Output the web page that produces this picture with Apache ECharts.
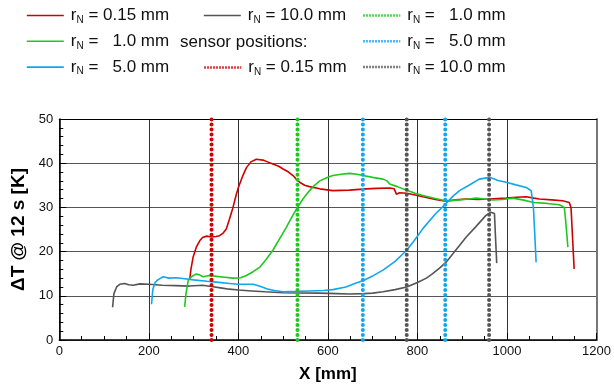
<!DOCTYPE html>
<html>
<head>
<meta charset="utf-8">
<script src="https://cdn.jsdelivr.net/npm/echarts@6/dist/echarts.min.js"></script>
<style>html,body{margin:0;padding:0;background:#fff}#c{width:614px;height:389px}</style>
</head>
<body>
<div id="c"></div>
<script>
// ---- data ----
var gray10 = [[119,7.4],[122,10.5],[128,12.0],[135,12.6],[146,12.8],[155,12.5],[165,12.4],[180,12.7],[200,12.6],[230,12.4],[260,12.3],[290,12.2],[320,12.4],[340,12.1],[360,11.8],[380,11.5],[400,11.3],[430,11.1],[460,10.9],[500,10.7],[537,10.65],[580,10.6],[620,10.5],[648,10.4],[680,10.5],[700,10.6],[723,10.9],[750,11.4],[776,12.0],[800,13.0],[820,14.0],[834,15.0],[850,16.3],[864,17.6],[880,19.6],[909,23.3],[930,25.6],[953,28.2],[964,28.9],[972,28.6],[974,24],[977,17.4]];
var blue5 = [[206,8.1],[209,11.5],[214,13.0],[220,13.6],[232,14.3],[245,14.0],[260,14.1],[276,13.9],[300,13.6],[330,13.3],[351,13.1],[380,12.8],[400,12.6],[433,12.6],[450,12.1],[463,11.6],[480,11.2],[500,10.9],[530,11.0],[559,11.1],[590,11.2],[611,11.4],[640,12.0],[663,12.9],[666,12.5],[678,13.4],[700,14.5],[723,15.8],[750,17.8],[776,20.3],[795,22.8],[812,25.2],[840,28.5],[863,30.8],[880,32.6],[894,33.8],[915,35.0],[938,36.4],[961,36.8],[980,36.1],[998,35.7],[1020,35.1],[1043,34.5],[1054,33.8],[1059,30.0],[1062,24],[1065,17.6]];
var green1 = [[280,7.5],[283,10.5],[288,13.5],[295,14.3],[305,14.9],[312,14.8],[321,14.3],[335,14.6],[352,14.4],[370,14.2],[388,14.0],[405,14.1],[418,14.6],[432,15.4],[448,16.5],[462,18.2],[477,20.3],[492,22.9],[507,25.5],[520,27.9],[532,30.0],[545,32.0],[559,33.8],[570,35.0],[582,36.0],[597,36.7],[611,37.2],[630,37.5],[648,37.7],[665,37.5],[678,37.2],[700,36.8],[723,36.4],[732,36.0],[738,35.3],[755,34.7],[776,33.9],[795,33.2],[812,32.7],[840,32.0],[863,31.5],[880,31.6],[894,31.7],[915,31.9],[931,32.1],[950,31.9],[968,31.7],[990,31.8],[1013,32.1],[1035,31.7],[1059,31.1],[1090,30.9],[1117,30.6],[1128,30.0],[1131,27],[1136,21.0]];
var red015 = [[291.5,13.9],[294,16],[299,18.8],[306,21.0],[314,22.5],[320,23.2],[329,23.5],[340,23.3],[350,23.4],[358,23.6],[366,24.2],[373,25.1],[380,27.3],[388,30.0],[395,32.8],[400,34.5],[410,37.2],[418,39.0],[428,40.3],[440,40.9],[455,40.7],[465,40.3],[477,39.8],[490,39.3],[500,38.7],[512,38.0],[522,37.2],[530,36.3],[537,35.7],[548,35.0],[559,34.7],[582,34.2],[611,33.8],[648,33.9],[685,34.2],[710,34.3],[738,34.4],[748,34.2],[753,33.0],[760,33.3],[776,33.2],[795,32.8],[812,32.4],[840,31.8],[863,31.4],[885,31.7],[909,31.9],[935,31.8],[961,31.9],[998,32.1],[1020,32.3],[1043,32.4],[1060,32.1],[1072,31.9],[1100,31.7],[1124,31.5],[1139,31.1],[1143,30.0],[1146,24],[1150,16.1]];
var sensorRed = [340];
var sensorGreen = [532];
var sensorBlue = [678, 862];
var sensorGray = [776, 960];
var yRange = [0, 50];

var C_RED = '#d00000', C_GREEN = '#1ec81e', C_BLUE = '#12a6ee', C_GRAY = '#555555';
var labels = {
  'c015': ' = 0.15 mm', 'c10': ' =   1.0 mm', 'c5': ' =   5.0 mm', 'c100': ' = 10.0 mm',
  's015': ' = 0.15 mm', 's10': ' =   1.0 mm', 's5': ' =   5.0 mm', 's100': ' = 10.0 mm'
};

var series = [];
function curve(name, data, color) {
  series.push({ name: name, type: 'line', data: data, symbol: 'none', showSymbol: false,
    lineStyle: { color: color, width: 1.6 }, itemStyle: { color: color }, z: 3, animation: false });
}
curve('c015', red015, C_RED);
curve('c100', gray10, C_GRAY);
curve('c10', green1, C_GREEN);
curve('c5', blue5, C_BLUE);
function sensors(name, xs, color) {
  xs.forEach(function (x) {
    series.push({ name: name, type: 'line', data: [[x, yRange[0]], [x, yRange[1]]], symbol: 'none',
      lineStyle: { color: color, width: 4, type: [0.01, 5], cap: 'round' }, itemStyle: { color: color }, z: 5, animation: false });
  });
}
sensors('s015', sensorRed, C_RED);
sensors('s10', sensorGreen, C_GREEN);
sensors('s5', sensorBlue, C_BLUE);
sensors('s100', sensorGray, C_GRAY);

var rich = {
  r: { fontSize: 17, fontFamily: 'Liberation Sans, Arial', color: '#111' },
  sub: { fontSize: 10, fontFamily: 'Liberation Sans, Arial', color: '#111', padding: [9, 0, 0, 0] },
  t: { fontSize: 17, fontFamily: 'Liberation Sans, Arial', color: '#111' }
};
function mkLegend(left, top, names, dotted) {
  return {
    left: left, top: top, orient: 'vertical', itemWidth: 37, itemHeight: 12, itemGap: 7.8, padding: 0,
    data: names, selectedMode: false,
    itemStyle: { color: 'rgba(0,0,0,0)', borderWidth: 0, opacity: 0 },
    lineStyle: dotted ? { width: 2.5, type: [1.5, 1.5], cap: 'butt' } : { width: 1.6 },
    formatter: function (n) { return '{r|r}{sub|N}{t|' + labels[n].replace(/ /g, '\u00a0') + '}'; },
    textStyle: { rich: rich, padding: [0, 0, 0, 2] }
  };
}
var legends = [
  mkLegend(26, 7, ['c015', 'c10', 'c5'], false),
  mkLegend(203, 7, ['c100'], false),
  mkLegend(203, 59, ['s015'], true),
  mkLegend(362, 7, ['s10', 's5', 's100'], true)
];

var chart = echarts.init(document.getElementById('c'), null, { renderer: 'canvas' });
chart.setOption({
  backgroundColor: '#fff',
  animation: false,
  legend: legends,
  graphic: [{ type: 'text', left: 180, top: 34, style: { text: 'sensor positions:', font: '17px "Liberation Sans", Arial', fill: '#111' } }],
  grid: { left: 59.3, right: 15.7, top: 119, bottom: 49 },
  xAxis: [{
    type: 'value', min: 0, max: 1200, interval: 200,
    name: 'X [mm]', nameLocation: 'middle', nameGap: 26,
    nameTextStyle: { fontSize: 17, fontWeight: 'bold', color: '#000', fontFamily: 'Liberation Sans, Arial' },
    axisLine: { show: true, lineStyle: { color: '#000', width: 1.5 } },
    axisTick: { show: true, inside: true, length: 7, lineStyle: { color: '#000' } },
    minorTick: { show: true, splitNumber: 4, length: 4, lineStyle: { color: '#000' } },
    axisLabel: { fontSize: 13, color: '#111', margin: 5, fontFamily: 'Liberation Sans, Arial', formatter: function (v) { return String(v); } },
    splitLine: { show: true, lineStyle: { color: '#333', width: 1 } }
  }, {
    type: 'value', position: 'top', min: 0, max: 1200, interval: 200,
    axisLine: { show: true, onZero: false, lineStyle: { color: '#000', width: 1.2 } },
    axisTick: { show: false }, axisLabel: { show: false }, splitLine: { show: false }
  }],
  yAxis: [{
    type: 'value', min: 0, max: 50, interval: 10,
    name: 'ΔT @ 12 s [K]', nameLocation: 'middle', nameGap: 23,
    nameTextStyle: { fontSize: 19, fontWeight: 'bold', color: '#000', fontFamily: 'Liberation Sans, Arial' },
    axisLine: { show: true, lineStyle: { color: '#000', width: 1.5 } },
    axisTick: { show: true, inside: true, length: 7, lineStyle: { color: '#000' } },
    minorTick: { show: true, splitNumber: 5, length: 4, lineStyle: { color: '#000' } },
    axisLabel: { fontSize: 13, color: '#111', margin: 6, fontFamily: 'Liberation Sans, Arial' },
    splitLine: { show: true, lineStyle: { color: '#555', width: 1 } }
  }, {
    type: 'value', position: 'right', min: 0, max: 50, interval: 10,
    axisLine: { show: true, onZero: false, lineStyle: { color: '#777', width: 2 } },
    axisTick: { show: false }, axisLabel: { show: false }, splitLine: { show: false }
  }],
  series: series
});
</script>
</body>
</html>
